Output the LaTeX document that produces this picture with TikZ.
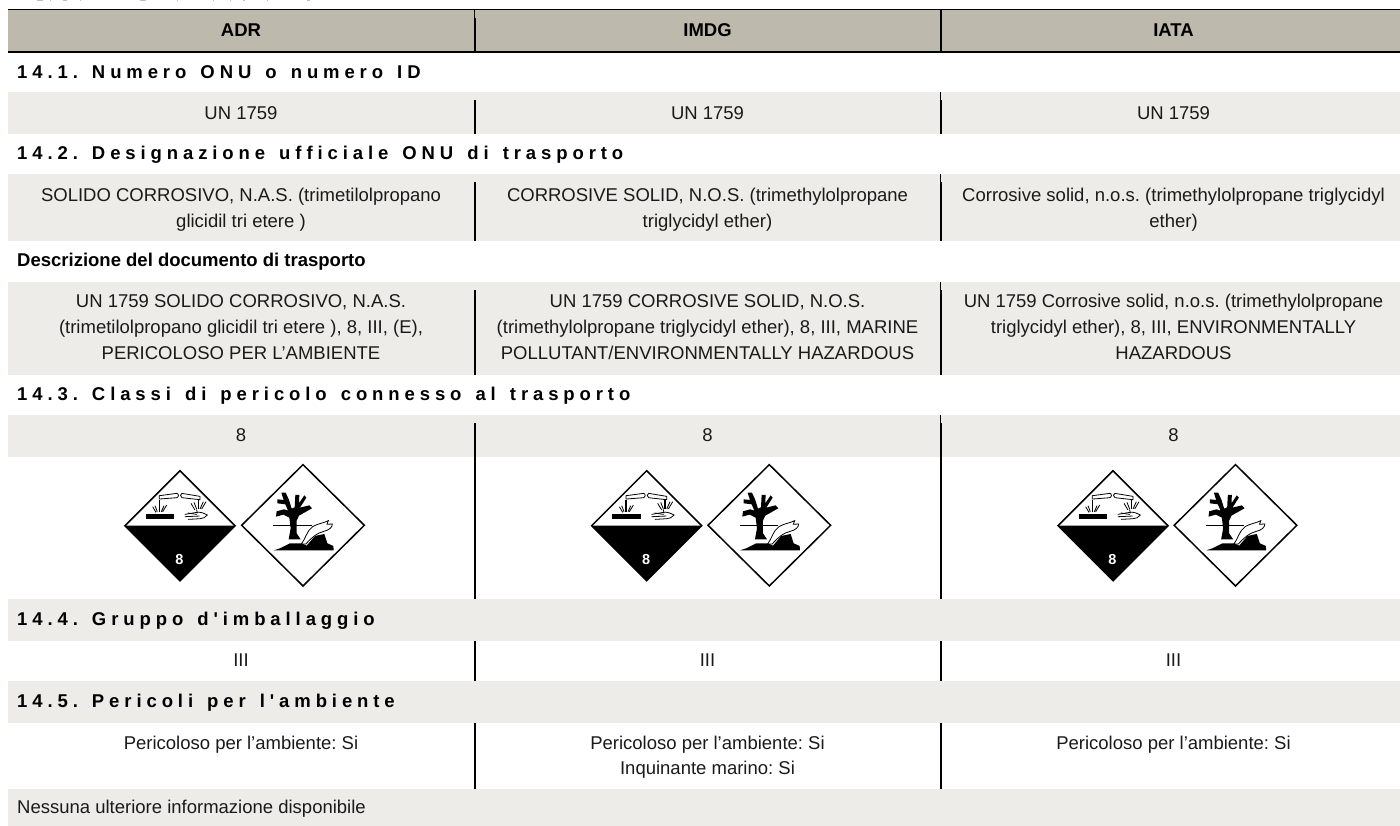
\documentclass[tikz,border=0pt]{standalone}
\usepackage{fontspec}
\setmainfont{Liberation Sans}
\newfontfamily\spacedfont[LetterSpace=26.5,WordSpace=1.4]{Liberation Sans}
\frenchspacing
\definecolor{headfill}{HTML}{BDBAAD}
\definecolor{bandfill}{HTML}{EDECE8}
\definecolor{inktext}{HTML}{1A1A1A}
\newcommand{\vp}{\vphantom{(}}
\tikzset{
  cell/.style={anchor=base,inner sep=0pt,yshift=-0.8pt,text=inktext,font=\fontsize{18.5}{18.5}\selectfont},
  mcell/.style={anchor=center,inner sep=0pt,yshift=-0.8pt,align=center,text=inktext,font=\fontsize{18.5}{26}\selectfont},
  headcell/.style={anchor=base,inner sep=0pt,yshift=-0.8pt,text=black,font=\fontsize{18.5}{18.5}\selectfont\bfseries},
  sectitle/.style={anchor=base west,inner sep=0pt,yshift=-0.8pt,text=black,font=\fontsize{18.5}{18.5}\spacedfont\bfseries},
  subtitle/.style={anchor=base west,inner sep=0pt,yshift=-0.8pt,text=black,font=\fontsize{18.5}{18.5}\selectfont\bfseries},
  thickdiv/.style={line width=1.9pt,black},
  thindiv/.style={line width=1pt,black},
  hazardsign/.pic={
    \begin{scope}[x=0.3333pt,y=-0.3333pt]
      \fill[black] (-165,0) -- (165,0) -- (0,165) -- cycle;
      \draw[line width=1.5pt,black,line join=miter] (0,-165) -- (165,0) -- (0,165) -- (-165,0) -- cycle;
      \draw[line width=0.8pt,black] (-62,-90) -- (-10,-97) .. controls (-3,-97) and (-3,-85) .. (-10,-84) -- (-62,-80) -- cycle;
      \draw[line width=0.8pt,black] (60,-88) -- (6,-97) .. controls (0,-97) and (0,-86) .. (6,-84) -- (60,-78) -- cycle;
      \fill[black] (-103,-34) rectangle (-18,-20);
      \draw[line width=1.2pt,black] (-62,-77) -- (-62,-42);
      \draw[line width=0.8pt,black] (-82,-57) -- (-72,-40) (-40,-62) -- (-52,-42) (-75,-60) -- (-68,-42) (-48,-60) -- (-56,-42);
      \draw[line width=1.2pt,black] (55,-77) -- (55,-50);
      \draw[line width=0.8pt,black] (33,-67) -- (45,-47) (78,-72) -- (65,-50) (42,-70) -- (50,-50) (70,-72) -- (60,-50);
      \draw[line width=0.8pt,black,line cap=round] (15,-34) -- (50,-40) .. controls (60,-42) and (72,-38) .. (82,-32) .. controls (75,-24) and (70,-22) .. (60,-21) -- (25,-19);
      \draw[line width=0.8pt,black,line cap=round] (15,-27) -- (58,-29) (24,-38) -- (50,-34) (50,-48) -- (52,-38);
      \node[anchor=center,inner sep=0pt,text=white,font=\fontsize{14.5}{14.5}\selectfont\bfseries] at (-2,100) {8};
    \end{scope}
  },
  envsign/.pic={
    \begin{scope}[x=0.3333pt,y=-0.3333pt,shift={(-339,-226)}]
      \draw[line width=1.5pt,black,line join=miter] (339,44) -- (523,226) -- (339,408) -- (155,226) -- cycle;
      \draw[line width=0.8pt,black] (250,226) -- (365,226);
      \fill[black] (296,268) -- (302,235) -- (298,203) -- (280,194) -- (258,200) -- (260,184) -- (282,178) -- (294,182) -- (286,163) -- (262,160) -- (262,148) -- (281,150) -- (274,128) -- (287,128) -- (297,150) -- (305,176) -- (314,172) -- (316,135) -- (328,135) -- (327,160) -- (343,136) -- (349,143) -- (330,173) -- (358,166) -- (366,175) -- (327,197) -- (320,212) -- (320,250) -- (332,268) -- cycle;
      \fill[black] (252,301) -- (270,295) -- (300,280) -- (335,280) -- (350,287) -- (375,258) -- (403,252) -- (412,280) -- (430,288) -- (431,301) -- cycle;
      \filldraw[fill=white,draw=black,line width=0.8pt] (334,282) .. controls (345,270) and (350,242) .. (368,230) .. controls (385,220) and (400,220) .. (415,212) -- (411,223) -- (427,222) .. controls (427,232) and (418,240) .. (402,244) .. controls (382,248) and (362,265) .. (348,282) -- cycle;
    \end{scope}
  }
}
\begin{document}
\begin{tikzpicture}[x=1pt,y=-1pt]
\useasboundingbox (0,0) rectangle (1400,826);
% faint clipped remains of a line above the table
\foreach \a/\b in {37/43,50/51,63/67,80/81,140/146,177/178,213/214,230/231,243/245,267/268,307/310}
  \fill[black!25] (\a,0) rectangle (\b,1);
% bands
\fill[headfill] (8,10) rectangle (1400,52);
\foreach \t/\b in {92/134,174/241,282/375,415/457,599/641,681/723,789/826}
  \fill[bandfill] (8,\t) rectangle (1400,\b);
\draw[black,line width=1.4pt] (8,9.5) -- (1400,9.5);
\draw[black,line width=2pt] (8,51.8) -- (1400,51.8);
% dividers
\draw[thindiv] (474.7,10) -- (474.7,18);
\draw[thickdiv] (474.7,18) -- (474.7,52);
\draw[thickdiv] (940.7,10) -- (940.7,52);
\foreach \t/\b in {92/134,174/241,282/375,415/599}{
  \draw[thickdiv] (474.7,\t+8) -- (474.7,\b);
  \draw[thindiv] (940.7,\t) -- (940.7,\t+8);
  \draw[thickdiv] (940.7,\t+8) -- (940.7,\b);
}
\foreach \t/\b in {641/681,723/789}{
  \draw[thickdiv] (474.7,\t) -- (474.7,\b);
  \draw[thickdiv] (940.7,\t) -- (940.7,\b);
}
% header
\node[headcell] (hadr) at (241,35.7) {ADR};
\node[headcell] (himdg) at (707.5,35.7) {IMDG};
\node[headcell] (hiata) at (1173.5,35.7) {IATA};
% section titles
\node[sectitle] (s141) at (17,77.3) {14.1. Numero ONU o numero ID};
\node[sectitle] (s142) at (17,158.5) {14.2. Designazione ufficiale ONU di trasporto};
\node[subtitle] (sdesc) at (17,266) {Descrizione del documento di trasporto};
\node[sectitle] (s143) at (17,400) {14.3. Classi di pericolo connesso al trasporto};
\node[sectitle] (s144) at (17,625) {14.4. Gruppo d'imballaggio};
\node[sectitle] (s145) at (17,707) {14.5. Pericoli per l'ambiente};
% 14.1
\node[cell] (un1) at (241,118.3) {UN 1759};
\node[cell] (un2) at (707.5,118.3) {UN 1759};
\node[cell] (un3) at (1173.5,118.3) {UN 1759};
% 14.2
\node[mcell] (nm1) at (241,208.9) {\vp SOLIDO CORROSIVO, N.A.S. (trimetilolpropano\\glicidil tri etere )\vp};
\node[mcell] (nm2) at (707.5,208.9) {\vp CORROSIVE SOLID, N.O.S. (trimethylolpropane\\triglycidyl ether)\vp};
\node[mcell] (nm3) at (1173.5,208.9) {\vp Corrosive solid, n.o.s. (trimethylolpropane triglycidyl\\ether)\vp};
% description
\node[mcell] (ds1) at (241,328.2) {\vp UN 1759 SOLIDO CORROSIVO, N.A.S.\\(trimetilolpropano glicidil tri etere ), 8, III, (E),\\PERICOLOSO PER L’AMBIENTE\vp};
\node[mcell] (ds2) at (707.5,328.2) {\vp UN 1759 CORROSIVE SOLID, N.O.S.\\(trimethylolpropane triglycidyl ether), 8, III, MARINE\\POLLUTANT/ENVIRONMENTALLY HAZARDOUS\vp};
\node[mcell] (ds3) at (1173.5,328.2) {\vp UN 1759 Corrosive solid, n.o.s. (trimethylolpropane\\triglycidyl ether), 8, III, ENVIRONMENTALLY\\HAZARDOUS\vp};
% 14.3
\node[cell] (cl1) at (241,440.7) {8};
\node[cell] (cl2) at (707.5,440.7) {8};
\node[cell] (cl3) at (1173.5,440.7) {8};
\pic at (180,525.7) {hazardsign};
\pic at (303,525.3) {envsign};
\pic at (646.7,525.7) {hazardsign};
\pic at (769.3,525.3) {envsign};
\pic at (1113,525.7) {hazardsign};
\pic at (1235.5,525.3) {envsign};
% 14.4
\node[cell] (pg1) at (241,666) {III};
\node[cell] (pg2) at (707.5,666) {III};
\node[cell] (pg3) at (1173.5,666) {III};
% 14.5
\node[cell] (en1) at (241,748.3) {Pericoloso per l'ambiente: Si};
\node[cell] (en2) at (707.5,748.3) {Pericoloso per l'ambiente: Si};
\node[cell] (en2b) at (707.5,774) {Inquinante marino: Si};
\node[cell] (en3) at (1173.5,748.3) {Pericoloso per l'ambiente: Si};
\node[anchor=base west,inner sep=0pt,yshift=-0.8pt,text=inktext,font=\fontsize{18.5}{18.5}\selectfont] (last) at (17,813) {Nessuna ulteriore informazione disponibile};
\end{tikzpicture}
\end{document}
